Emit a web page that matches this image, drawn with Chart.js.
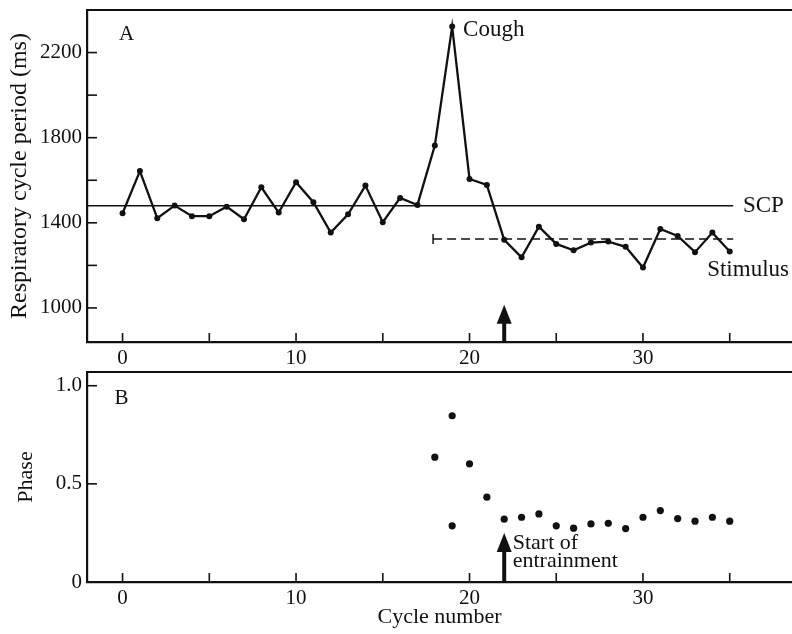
<!DOCTYPE html>
<html>
<head>
<meta charset="utf-8">
<script src="https://cdn.jsdelivr.net/npm/chart.js@4.4.1/dist/chart.umd.min.js"></script>
<style>
  html, body { margin: 0; padding: 0; background: #fff; }
  #wrap { position: relative; width: 792px; height: 634px; }
  #topChart { position: absolute; left: 0; top: 0; }
  #bottomChart { position: absolute; left: 0; top: 370px; }
</style>
</head>
<body>
<div id="wrap">
  <canvas id="topChart" width="792" height="370"></canvas>
  <canvas id="bottomChart" width="792" height="264"></canvas>
</div>
<script>
// values
const cycles = [0,1,2,3,4,5,6,7,8,9,10,11,12,13,14,15,16,17,18,19,20,21,22,23,24,25,26,27,28,29,30,31,32,33,34,35];
const periodMs = [1445,1643,1422,1481,1431,1431,1476,1417,1567,1448,1591,1497,1354,1440,1575,1403,1517,1484,1763,2322,1606,1578,1320,1238,1382,1301,1271,1307,1312,1287,1190,1371,1338,1262,1354,1265];
const scpMs = 1480;
const scpCycles = [-2.05, 35.2];
const stimulusMs = 1324;
const stimulusCycles = [17.9, 35.2];

const phaseCycles = [18,19,19,20,21,22,23,24,25,26,27,28,29,30,31,32,33,34,35];
const phaseValues = [0.636,0.847,0.286,0.602,0.432,0.320,0.330,0.347,0.286,0.274,0.296,0.299,0.272,0.330,0.364,0.323,0.310,0.330,0.310];

const cycleTicks = [0,5,10,15,20,25,30,35];
const cycleTickLabels = ['0','','10','','20','','30',''];
const periodTicks = [1000,1200,1400,1600,1800,2000,2200];
const periodTickLabels = ['1000','','1400','','1800','','2200'];
const phaseTicks = [0,0.5,1.0];
const phaseTickLabels = ['0','0.5','1.0'];

const entrainmentCycle = 22;

const SERIF = "'Liberation Serif', 'Times New Roman', serif";
const INK = '#111';
Chart.defaults.font.family = SERIF;
Chart.defaults.color = INK;
Chart.defaults.animation = false;

function fixedTicks(values) {
  return function (scale) { scale.ticks = values.map(v => ({ value: v })); };
}
function labelFrom(values, labels) {
  return function (value) { const i = values.indexOf(value); return i >= 0 ? labels[i] : ''; };
}
function noPadding(s) {
  s.paddingLeft = 0; s.paddingRight = 0; s.paddingTop = 0; s.paddingBottom = 0;
}

// short tick marks pointing into the plot, plus arrow and text notes
const decorations = {
  id: 'decorations',
  afterDraw(chart, args, opts) {
    const { ctx, chartArea } = chart;
    const xs = chart.scales.x, ys = chart.scales.y;
    ctx.save();
    ctx.strokeStyle = INK;
    ctx.lineWidth = 1.6;
    xs.ticks.forEach(t => {
      const px = xs.getPixelForValue(t.value);
      ctx.beginPath();
      ctx.moveTo(px, chartArea.bottom);
      ctx.lineTo(px, chartArea.bottom - 9);
      ctx.stroke();
    });
    ys.ticks.forEach(t => {
      const py = ys.getPixelForValue(t.value);
      if (py > chartArea.bottom - 2) return;
      ctx.beginPath();
      ctx.moveTo(chartArea.left, py);
      ctx.lineTo(chartArea.left + 10, py);
      ctx.stroke();
    });

    if (opts.arrow) {
      const ax = xs.getPixelForValue(opts.arrow.x);
      const tip = ys.getPixelForValue(opts.arrow.tip);
      const base = chartArea.bottom;
      ctx.fillStyle = INK;
      ctx.fillRect(ax - 2, tip + 16, 4, base - tip - 16);
      ctx.beginPath();
      ctx.moveTo(ax, tip);
      ctx.lineTo(ax + 7.5, tip + 19);
      ctx.lineTo(ax - 7.5, tip + 19);
      ctx.closePath();
      ctx.fill();
    }

    ctx.fillStyle = INK;
    ctx.textBaseline = 'middle';
    ctx.textAlign = 'left';
    (opts.notes || []).forEach(n => {
      ctx.font = (n.size || 22) + 'px ' + SERIF;
      ctx.fillText(n.text, xs.getPixelForValue(n.x), ys.getPixelForValue(n.y));
    });
    ctx.restore();
  }
};

const xRange = { min: -2.05, max: 38.59 };

function xAxis(height, showTitle) {
  return {
    type: 'linear',
    position: 'bottom',
    min: xRange.min,
    max: xRange.max,
    afterBuildTicks: fixedTicks(cycleTicks),
    afterFit: s => { s.height = height; noPadding(s); },
    grid: { display: true, drawOnChartArea: false, drawTicks: false },
    border: { display: true, color: INK, width: 2.2 },
    ticks: {
      padding: 4,
      maxRotation: 0,
      autoSkip: false,
      font: { size: 21 },
      color: INK,
      callback: labelFrom(cycleTicks, cycleTickLabels)
    },
    title: {
      display: showTitle,
      text: 'Cycle number',
      font: { size: 22 },
      color: INK,
      padding: { top: 0, bottom: 4 }
    }
  };
}

function topFrame() {
  return {
    type: 'linear',
    position: 'top',
    afterFit: s => { s.height = 0; noPadding(s); },
    grid: { display: false },
    border: { display: true, color: INK, width: 2 },
    ticks: { display: false }
  };
}

// panel A: respiratory cycle period
new Chart(document.getElementById('topChart'), {
  type: 'scatter',
  data: {
    datasets: [
      {
        label: 'Period',
        data: cycles.map((c, i) => ({ x: c, y: periodMs[i] })),
        showLine: true,
        borderColor: INK,
        borderWidth: 2.3,
        backgroundColor: INK,
        pointRadius: 3,
        pointBorderWidth: 0,
        tension: 0
      },
      {
        label: 'SCP',
        data: scpCycles.map(c => ({ x: c, y: scpMs })),
        showLine: true,
        borderColor: INK,
        borderWidth: 1.5,
        pointRadius: 0
      },
      {
        label: 'Stimulus',
        data: stimulusCycles.map(c => ({ x: c, y: stimulusMs })),
        showLine: true,
        borderColor: INK,
        borderWidth: 1.5,
        borderDash: [9, 5],
        pointStyle: 'line',
        pointRotation: 90,
        pointRadius: [5, 0],
        pointBorderColor: INK,
        pointBorderWidth: 1.5
      }
    ]
  },
  options: {
    responsive: false,
    layout: { autoPadding: false, padding: { top: 10, left: 0, right: 0, bottom: 0 } },
    plugins: {
      legend: { display: false },
      tooltip: { enabled: false },
      decorations: {
        arrow: { x: entrainmentCycle, tip: 1015 },
        notes: [
          { text: 'A', x: -0.2, y: 2283, size: 21 },
          { text: 'Cough', x: 19.63, y: 2307, size: 23 },
          { text: 'SCP', x: 35.76, y: 1480, size: 23 },
          { text: 'Stimulus', x: 33.7, y: 1179, size: 23 }
        ]
      }
    },
    scales: {
      x: xAxis(28, false),
      x2: topFrame(),
      y: {
        type: 'linear',
        min: 840,
        max: 2400,
        afterBuildTicks: fixedTicks(periodTicks),
        afterFit: s => { s.width = 87; noPadding(s); },
        grid: { display: true, drawOnChartArea: false, drawTicks: false },
        border: { display: true, color: INK, width: 2.2 },
        ticks: {
          padding: 5,
          font: { size: 21 },
          color: INK,
          callback: labelFrom(periodTicks, periodTickLabels)
        },
        title: {
          display: true,
          text: 'Respiratory cycle period (ms)',
          font: { size: 24 },
          color: INK,
          padding: { top: 5, bottom: 0 }
        }
      }
    }
  },
  plugins: [decorations]
});

// panel B: phase
new Chart(document.getElementById('bottomChart'), {
  type: 'scatter',
  data: {
    datasets: [
      {
        label: 'Phase',
        data: phaseCycles.map((c, i) => ({ x: c, y: phaseValues[i] })),
        backgroundColor: INK,
        pointRadius: 3.6,
        pointBorderWidth: 0
      }
    ]
  },
  options: {
    responsive: false,
    layout: { autoPadding: false, padding: { top: 2, left: 0, right: 0, bottom: 0 } },
    plugins: {
      legend: { display: false },
      tooltip: { enabled: false },
      decorations: {
        arrow: { x: entrainmentCycle, tip: 0.25 },
        notes: [
          { text: 'B', x: -0.47, y: 0.937, size: 21 },
          { text: 'Start of', x: 22.49, y: 0.199, size: 22 },
          { text: 'entrainment', x: 22.49, y: 0.104, size: 22 }
        ]
      }
    },
    scales: {
      x: xAxis(52, true),
      x2: topFrame(),
      y: {
        type: 'linear',
        min: 0,
        max: 1.07,
        afterBuildTicks: fixedTicks(phaseTicks),
        afterFit: s => { s.width = 87; noPadding(s); },
        grid: { display: true, drawOnChartArea: false, drawTicks: false },
        border: { display: true, color: INK, width: 2.2 },
        ticks: {
          padding: 5,
          font: { size: 21 },
          color: INK,
          callback: labelFrom(phaseTicks, phaseTickLabels)
        },
        title: {
          display: true,
          text: 'Phase',
          font: { size: 22 },
          color: INK,
          padding: { top: 13, bottom: 0 }
        }
      }
    }
  },
  plugins: [decorations]
});
</script>
</body>
</html>
